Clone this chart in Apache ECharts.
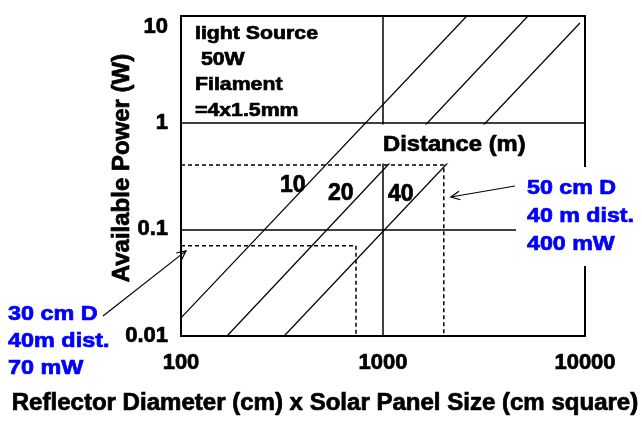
<!DOCTYPE html>
<html>
<head>
<meta charset="utf-8">
<script src="https://cdn.jsdelivr.net/npm/echarts@6/dist/echarts.min.js"></script>
<style>
  html, body { margin: 0; padding: 0; background: #fff; }
  #chart { width: 642px; height: 424px; }
</style>
</head>
<body>
<div id="chart"></div>
<script>
// Tick labels of the two logarithmic axes
const xTickLabels = ['100', '1000', '10000'];
const yTickLabels = ['0.01', '0.1', '1', '10'];

// Distance curves: straight segments on log-log scales, [size, watts] endpoints
const distanceNames = ['10', '20', '40'];
const line10m = [[100, 0.0148], [2600, 10]];
const line20m = [[169, 0.01], [5220, 10]];
const line40m = [[324, 0.01], [9440, 8.6]];

// Worked cases (size, power in W)
const case50cm = [[100, 0.4], [2000, 0.4], [2000, 0.01]];
const case30cm = [[100, 0.07], [735, 0.07], [735, 0.01]];

// Text blocks
const sourceNotes = ['light Source', ' 50W', 'Filament', '=4x1.5mm'];
const case50cmText = ['50 cm D', '40 m dist.', '400 mW'];
const case30cmText = ['30 cm D', '40m dist.', '70 mW'];
const xTitle = 'Reflector Diameter (cm) x Solar Panel Size (cm square)';
const yTitle = 'Available Power (W)';
const distanceTitle = 'Distance (m)';

const FONT = '"Liberation Sans", Arial, Helvetica, sans-serif';
const BLUE = '#0000ff';
const HEAVY = 0.7; // extra stroke that thickens the bold glyphs

function tickText(labels, v) {
  const hit = labels.find(s => Math.abs(Math.log10(Number(s)) - Math.log10(v)) < 1e-6);
  return hit === undefined ? '' : hit;
}

function solid(name, data) {
  return {
    name, type: 'line', data, symbol: 'none', silent: true, animation: false,
    lineStyle: { color: '#000', width: 1.2 }, z: 3
  };
}
function dashed(name, data) {
  return {
    name, type: 'line', data, symbol: 'none', silent: true, animation: false,
    lineStyle: { color: '#000', width: 1.5, type: [4, 3] }, z: 3
  };
}

const chart = echarts.init(document.getElementById('chart'), null, { renderer: 'canvas' });

const tickLabelStyle = {
  color: '#000', fontSize: 22, fontWeight: 'bold', fontFamily: FONT,
  textBorderColor: '#000', textBorderWidth: HEAVY
};

chart.setOption({
  animation: false,
  backgroundColor: '#fff',
  textStyle: { fontFamily: FONT },
  grid: {
    left: 181, right: 57, top: 16, bottom: 88,
    show: true, borderColor: '#000', borderWidth: 2, backgroundColor: 'transparent'
  },
  xAxis: {
    type: 'log', logBase: 10, min: 100, max: 10000,
    axisLine: { show: false }, axisTick: { show: false },
    splitLine: { show: true, lineStyle: { color: '#000', width: 1.5 } },
    axisLabel: Object.assign({
      margin: 16,
      formatter: v => tickText(xTickLabels, v)
    }, tickLabelStyle)
  },
  yAxis: {
    type: 'log', logBase: 10, min: 0.01, max: 10,
    axisLine: { show: false }, axisTick: { show: false },
    splitLine: { show: true, lineStyle: { color: '#000', width: 1.5 } },
    axisLabel: Object.assign({
      margin: 13,
      verticalAlignMaxLabel: 'top',
      formatter: v => tickText(yTickLabels, v)
    }, tickLabelStyle)
  },
  series: [
    solid(distanceNames[0] + ' m', line10m),
    solid(distanceNames[1] + ' m', line20m),
    solid(distanceNames[2] + ' m', line40m),
    dashed('50 cm case', case50cm),
    dashed('30 cm case', case30cm)
  ]
});

function text(str, x, y, size, color, opts) {
  opts = opts || {};
  return {
    type: 'text', x, y, z: 120, silent: true,
    scaleX: opts.scaleX || 1,
    rotation: opts.rotation || 0,
    style: {
      text: str, fill: color,
      stroke: color, lineWidth: HEAVY,
      font: 'bold ' + size + 'px ' + FONT,
      align: opts.align || 'left', verticalAlign: 'middle'
    }
  };
}

function arrow(from, to, head) {
  const ang = Math.atan2(to[1] - from[1], to[0] - from[0]);
  const a1 = ang + Math.PI - 0.45, a2 = ang + Math.PI + 0.45;
  return [
    { type: 'line', z: 120, silent: true,
      shape: { x1: from[0], y1: from[1], x2: to[0], y2: to[1] },
      style: { stroke: '#000', lineWidth: 1.2 } },
    { type: 'polyline', z: 120, silent: true,
      shape: { points: [
        [to[0] + head * Math.cos(a1), to[1] + head * Math.sin(a1)],
        to,
        [to[0] + head * Math.cos(a2), to[1] + head * Math.sin(a2)]
      ] },
      style: { stroke: '#000', lineWidth: 1.2, fill: null } }
  ];
}

function block(lines, x, y0, step, size, color, scaleX) {
  return lines.map((s, i) => text(s, x, y0 + i * step, size, color, { scaleX }));
}

// Pixel anchors of the worked cases, so the call-out arrows land on the guides
const p50 = chart.convertToPixel({ gridIndex: 0 }, case50cm[1]);
const p30 = chart.convertToPixel({ gridIndex: 0 }, case30cm[0]);

const elements = [
  // white panels behind the in-plot captions
  { type: 'rect', z: 110, silent: true, shape: { x: 376, y: 124.5, width: 160, height: 39 }, style: { fill: '#fff' } },
  { type: 'rect', z: 110, silent: true, shape: { x: 516, y: 167, width: 126, height: 99 }, style: { fill: '#fff' } },

  text(distanceTitle, 383, 145, 22, '#000', { scaleX: 1.08 }),
  text(distanceNames[0], 280, 186, 23, '#000'),
  text(distanceNames[1], 328, 193.5, 23, '#000'),
  text(distanceNames[2], 388, 195, 23, '#000'),

  ...block(sourceNotes, 195, 33.5, 25.8, 19, '#000', 1.12),
  ...block(case50cmText, 527, 188, 28.3, 20, BLUE, 1.16),
  ...block(case30cmText, 8, 314, 27, 20, BLUE, 1.17),

  text(xTitle, 325, 404, 23, '#000', { align: 'center', scaleX: 1.045 }),
  text(yTitle, 122, 168, 24, '#000', { align: 'center', rotation: Math.PI / 2 }),

  ...arrow([515, 186], [p50[0] + 7, 197], 10),
  ...arrow([103, 316], [p30[0] + 5, p30[1] + 5], 10)
];

chart.setOption({ graphic: { elements } });
</script>
</body>
</html>
